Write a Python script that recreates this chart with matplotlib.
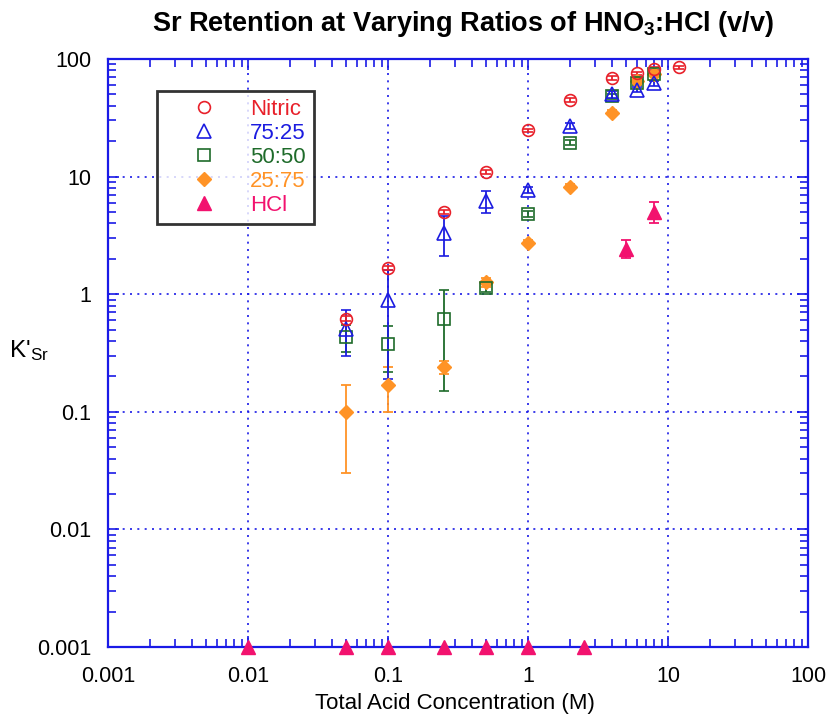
import matplotlib
matplotlib.use("Agg")
import matplotlib.pyplot as plt
from matplotlib.lines import Line2D
from matplotlib.ticker import LogLocator, NullFormatter, FixedLocator, FixedFormatter

# data (K'Sr vs total acid concentration)
nitric_x = [0.05, 0.1, 0.25, 0.5, 1, 2, 4, 6, 8, 12]
nitric_y = [0.62, 1.67, 5.0, 10.9, 24.8, 45, 69, 75.5, 83, 85]
nitric_lo = [0.59, 1.60, 4.8, 10.5, 24.0, 43.5, 66.5, 73, 80, 82]
nitric_hi = [0.65, 1.74, 5.2, 11.3, 25.6, 46.5, 71.5, 78, 86, 88]

r75_x = [0.05, 0.1, 0.25, 0.5, 1, 2, 4, 6, 8]
r75_y = [0.51, 0.89, 3.3, 6.2, 7.7, 27, 50, 55, 62]
r75_lo = [0.30, 0.19, 2.1, 4.9, 7.3, 25.5, 47, 52, 59]
r75_hi = [0.73, 1.6, 4.6, 7.6, 8.1, 28.5, 53, 58, 65]

r50_x = [0.05, 0.1, 0.25, 0.5, 1, 2, 4, 6, 8]
r50_y = [0.43, 0.38, 0.62, 1.13, 4.8, 19.4, 48, 63, 75]
r50_lo = [0.32, 0.22, 0.15, 1.05, 4.5, 18.5, 46, 60, 72]
r50_hi = [0.55, 0.54, 1.08, 1.22, 5.1, 20.3, 50, 66, 78]

r25_x = [0.05, 0.1, 0.25, 0.5, 1, 2, 4, 6, 8]
r25_y = [0.10, 0.17, 0.24, 1.26, 2.75, 8.2, 35, 65, 74]
r25_lo = [0.03, 0.10, 0.21, 1.16, 2.6, 7.8, 33.5, 62, 71]
r25_hi = [0.17, 0.24, 0.27, 1.36, 2.9, 8.6, 36.5, 68, 77]

hcl_x = [5, 8]
hcl_y = [2.42, 5.0]
hcl_lo = [2.04, 4.06]
hcl_hi = [2.9, 6.1]
# HCl points with no measurable retention, drawn on the bottom axis
hcl_zero_x = [0.01, 0.05, 0.1, 0.25, 0.5, 1, 2.5]
hcl_zero_y = [0.001, 0.001, 0.001, 0.001, 0.001, 0.001, 0.001]

x_ticks = [0.001, 0.01, 0.1, 1, 10, 100]
x_labels = ["0.001", "0.01", "0.1", "1", "10", "100"]
y_ticks = [0.001, 0.01, 0.1, 1, 10, 100]
y_labels = ["0.001", "0.01", "0.1", "1", "10", "100"]

RED = "#e8202a"
BLUE = "#1c1ce0"
GREEN = "#1e6b2a"
ORANGE = "#ff9326"
PINK = "#f2126e"
AXBLUE = "#1a1ae6"

plt.rcParams["font.family"] = ["Liberation Sans", "DejaVu Sans"]
plt.rcParams["mathtext.fontset"] = "custom"
plt.rcParams["mathtext.rm"] = "Liberation Sans"
plt.rcParams["mathtext.bf"] = "Liberation Sans:bold"
plt.rcParams["mathtext.it"] = "Liberation Sans:italic"


def err(y, lo, hi):
    return [[v - l for v, l in zip(y, lo)], [h - v for v, h in zip(y, hi)]]


fig = plt.figure(figsize=(8.3, 7.15), dpi=100)
ax = fig.add_axes([108 / 830, 68 / 715, 700 / 830, 588 / 715])
ax.set_xscale("log")
ax.set_yscale("log")
ax.set_xlim(0.001, 100)
ax.set_ylim(0.001, 100)

ebkw = dict(capsize=3.5, elinewidth=1.3, capthick=1.3, linestyle="none", zorder=3)

ax.errorbar(r25_x, r25_y, yerr=err(r25_y, r25_lo, r25_hi), fmt="D", ms=7.5,
            color=ORANGE, mfc=ORANGE, mec=ORANGE, ecolor=ORANGE, **ebkw)
ax.errorbar(r50_x, r50_y, yerr=err(r50_y, r50_lo, r50_hi), fmt="s", ms=8.5,
            color=GREEN, mfc="none", mec=GREEN, mew=1.2, ecolor=GREEN, **ebkw)
ax.errorbar(r75_x, r75_y, yerr=err(r75_y, r75_lo, r75_hi), fmt="^", ms=9.5,
            color=BLUE, mfc="none", mec=BLUE, mew=1.2, ecolor=BLUE, **ebkw)
ax.errorbar(nitric_x, nitric_y, yerr=err(nitric_y, nitric_lo, nitric_hi), fmt="o", ms=8.5,
            color=RED, mfc="none", mec=RED, mew=1.2, ecolor=RED, **ebkw)
ax.errorbar(hcl_x, hcl_y, yerr=err(hcl_y, hcl_lo, hcl_hi), fmt="^", ms=10,
            color=PINK, mfc=PINK, mec=PINK, ecolor=PINK, **ebkw)
ax.plot(hcl_zero_x, hcl_zero_y, "^", ms=10, color=PINK, clip_on=False, zorder=5)

# axes styling: blue frame, inward ticks on all sides, dotted decade grid
for s in ax.spines.values():
    s.set_color(AXBLUE)
    s.set_linewidth(1.6)
ax.xaxis.set_major_locator(FixedLocator(x_ticks))
ax.xaxis.set_major_formatter(FixedFormatter(x_labels))
ax.yaxis.set_major_locator(FixedLocator(y_ticks))
ax.yaxis.set_major_formatter(FixedFormatter(y_labels))
ax.xaxis.set_minor_locator(LogLocator(base=10, subs=range(2, 10), numticks=20))
ax.yaxis.set_minor_locator(LogLocator(base=10, subs=range(2, 10), numticks=20))
ax.xaxis.set_minor_formatter(NullFormatter())
ax.yaxis.set_minor_formatter(NullFormatter())
ax.tick_params(which="both", direction="in", top=True, right=True, color=AXBLUE, width=1.2)
ax.tick_params(which="major", length=8, labelsize=15.5, labelcolor="black")
ax.tick_params(which="minor", length=6)
ax.tick_params(axis="x", which="major", pad=14)
ax.tick_params(axis="y", which="major", pad=12)
ax.grid(True, which="major", color=AXBLUE, linestyle=(0, (1.2, 3.2)), linewidth=1.2)
ax.set_axisbelow(True)

fig.text(463 / 830, 1 - 31 / 715,
         r"Sr Retention at Varying Ratios of HNO$_\mathbf{3}$:HCl (v/v)",
         ha="center", va="baseline", fontsize=19.5, fontweight="bold")
fig.text(455 / 830, 1 - 709 / 715, "Total Acid Concentration (M)",
         ha="center", va="baseline", fontsize=16)
fig.text(9 / 830, 1 - 357 / 715, r"K'$_\mathrm{Sr}$", ha="left", va="baseline", fontsize=17.5)

handles = [
    Line2D([], [], marker="o", ls="none", ms=8.5, mfc="none", mec=RED, mew=1.2),
    Line2D([], [], marker="^", ls="none", ms=9.5, mfc="none", mec=BLUE, mew=1.2),
    Line2D([], [], marker="s", ls="none", ms=8.5, mfc="none", mec=GREEN, mew=1.2),
    Line2D([], [], marker="D", ls="none", ms=7.5, mfc=ORANGE, mec=ORANGE),
    Line2D([], [], marker="^", ls="none", ms=10, mfc=PINK, mec=PINK),
]
labels = ["Nitric", "75:25", "50:50", "25:75", "HCl"]
leg = fig.legend(handles, labels, loc="upper left",
                 bbox_to_anchor=(157 / 830, 1 - 91 / 715), borderaxespad=0,
                 fontsize=16, frameon=True, fancybox=False, borderpad=0.35,
                 handlelength=3.5, handletextpad=0.35, labelspacing=0.14,
                 labelcolor=[RED, BLUE, GREEN, ORANGE, PINK])
leg.get_frame().set_edgecolor("black")
leg.get_frame().set_linewidth(2)

fig.savefig("out.png", dpi=100)
